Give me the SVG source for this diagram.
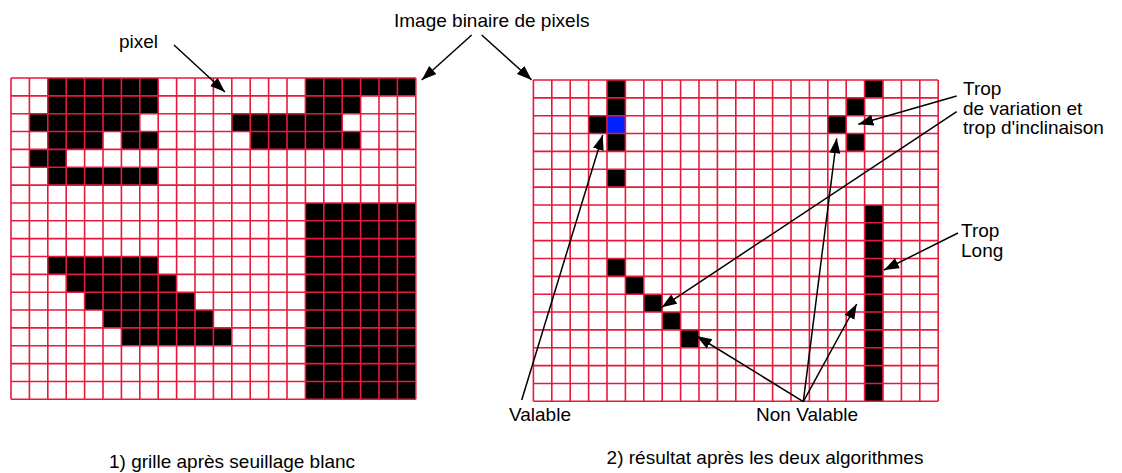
<svg xmlns="http://www.w3.org/2000/svg" xmlns:xlink="http://www.w3.org/1999/xlink" width="1122" height="473" viewBox="0 0 1122 473">
<style>
text{font-family:"Liberation Sans",Arial,sans-serif;font-size:19px;fill:#000}
.gl{fill:none;stroke:#e8193c;stroke-width:1.6}
.blk{fill:#000}
.blu{fill:#0022ff}
.con{fill:none;stroke:#000;stroke-width:1.5;marker-end:url(#ah)}
</style>
<defs>
<marker id="ah" markerUnits="userSpaceOnUse" markerWidth="16" markerHeight="12" refX="15" refY="5.5" orient="auto">
<path d="M0,0 L15,5.5 L0,11 z" fill="#000"/>
</marker>
<path id="grid" class="gl" d="M0 0V321.3M18.4 0V321.3M36.8 0V321.3M55.2 0V321.3M73.6 0V321.3M92 0V321.3M110.4 0V321.3M128.8 0V321.3M147.2 0V321.3M165.6 0V321.3M184 0V321.3M202.4 0V321.3M220.8 0V321.3M239.2 0V321.3M257.6 0V321.3M276 0V321.3M294.4 0V321.3M312.8 0V321.3M331.2 0V321.3M349.6 0V321.3M368 0V321.3M386.4 0V321.3M404.8 0V321.3M0 0H404.8M0 17.85H404.8M0 35.7H404.8M0 53.55H404.8M0 71.4H404.8M0 89.25H404.8M0 107.1H404.8M0 124.95H404.8M0 142.8H404.8M0 160.65H404.8M0 178.5H404.8M0 196.35H404.8M0 214.2H404.8M0 232.05H404.8M0 249.9H404.8M0 267.75H404.8M0 285.6H404.8M0 303.45H404.8M0 321.3H404.8"/>
</defs>
<rect width="1122" height="473" fill="#fff"/>

<g id="grid-left" transform="translate(11,78)">
<rect class="blk" x="36.8" y="0" width="110.4" height="35.7"/>
<rect class="blk" x="294.4" y="0" width="110.4" height="17.85"/>
<rect class="blk" x="294.4" y="17.85" width="55.2" height="17.85"/>
<rect class="blk" x="18.4" y="35.7" width="110.4" height="17.85"/>
<rect class="blk" x="220.8" y="35.7" width="110.4" height="17.85"/>
<rect class="blk" x="36.8" y="53.55" width="55.2" height="17.85"/>
<rect class="blk" x="110.4" y="53.55" width="36.8" height="17.85"/>
<rect class="blk" x="239.2" y="53.55" width="110.4" height="17.85"/>
<rect class="blk" x="18.4" y="71.4" width="36.8" height="17.85"/>
<rect class="blk" x="36.8" y="89.25" width="110.4" height="17.85"/>
<rect class="blk" x="294.4" y="124.95" width="110.4" height="196.35"/>
<rect class="blk" x="36.8" y="178.5" width="110.4" height="17.85"/>
<rect class="blk" x="55.2" y="196.35" width="110.4" height="17.85"/>
<rect class="blk" x="73.6" y="214.2" width="110.4" height="17.85"/>
<rect class="blk" x="92" y="232.05" width="110.4" height="17.85"/>
<rect class="blk" x="110.4" y="249.9" width="110.4" height="17.85"/>
<use xlink:href="#grid" href="#grid"/>
</g>

<g id="grid-right" transform="translate(533.4,80)">
<rect class="blk" x="73.6" y="0" width="18.4" height="35.7"/>
<rect class="blk" x="55.2" y="35.7" width="18.4" height="17.85"/>
<rect class="blu" x="73.6" y="35.7" width="18.4" height="17.85"/>
<rect class="blk" x="73.6" y="53.55" width="18.4" height="17.85"/>
<rect class="blk" x="73.6" y="89.25" width="18.4" height="17.85"/>
<rect class="blk" x="331.2" y="0" width="18.4" height="17.85"/>
<rect class="blk" x="312.8" y="17.85" width="18.4" height="17.85"/>
<rect class="blk" x="294.4" y="35.7" width="18.4" height="17.85"/>
<rect class="blk" x="312.8" y="53.55" width="18.4" height="17.85"/>
<rect class="blk" x="331.2" y="124.95" width="18.4" height="196.35"/>
<rect class="blk" x="73.6" y="178.5" width="18.4" height="17.85"/>
<rect class="blk" x="92" y="196.35" width="18.4" height="17.85"/>
<rect class="blk" x="110.4" y="214.2" width="18.4" height="17.85"/>
<rect class="blk" x="128.8" y="232.05" width="18.4" height="17.85"/>
<rect class="blk" x="147.2" y="249.9" width="18.4" height="17.85"/>
<use xlink:href="#grid" href="#grid"/>
</g>

<g id="label-pixel"><text x="119" y="48">pixel</text></g>
<g id="label-image"><text x="394" y="27">Image binaire de pixels</text></g>
<g id="label-trop-variation">
<text x="963" y="95">Trop</text>
<text x="963" y="115">de variation et</text>
<text x="963" y="134">trop d'inclinaison</text>
</g>
<g id="label-trop-long">
<text x="961" y="237">Trop</text>
<text x="961" y="257">Long</text>
</g>
<g id="label-valable"><text x="509" y="421">Valable</text></g>
<g id="label-non-valable"><text x="756" y="421">Non Valable</text></g>
<g id="caption-1"><text x="232" y="468" text-anchor="middle">1) grille après seuillage blanc</text></g>
<g id="caption-2"><text x="765" y="464" text-anchor="middle">2) résultat après les deux algorithmes</text></g>

<g id="connectors">
<line class="con" x1="174" y1="45" x2="225" y2="92"/>
<line class="con" x1="471.7" y1="35" x2="421.7" y2="80"/>
<line class="con" x1="481.7" y1="35" x2="531.7" y2="80"/>
<line class="con" x1="956.7" y1="96" x2="858.3" y2="124.3"/>
<line class="con" x1="956.7" y1="111.7" x2="661.7" y2="307.3"/>
<line class="con" x1="958" y1="233" x2="884" y2="270"/>
<line class="con" x1="521.7" y1="400" x2="602.7" y2="135"/>
<line class="con" x1="803.3" y1="401.7" x2="696.7" y2="336"/>
<line class="con" x1="803.3" y1="401.7" x2="836.7" y2="138.3"/>
<line class="con" x1="803.3" y1="401.7" x2="856.7" y2="304"/>
</g>
</svg>
